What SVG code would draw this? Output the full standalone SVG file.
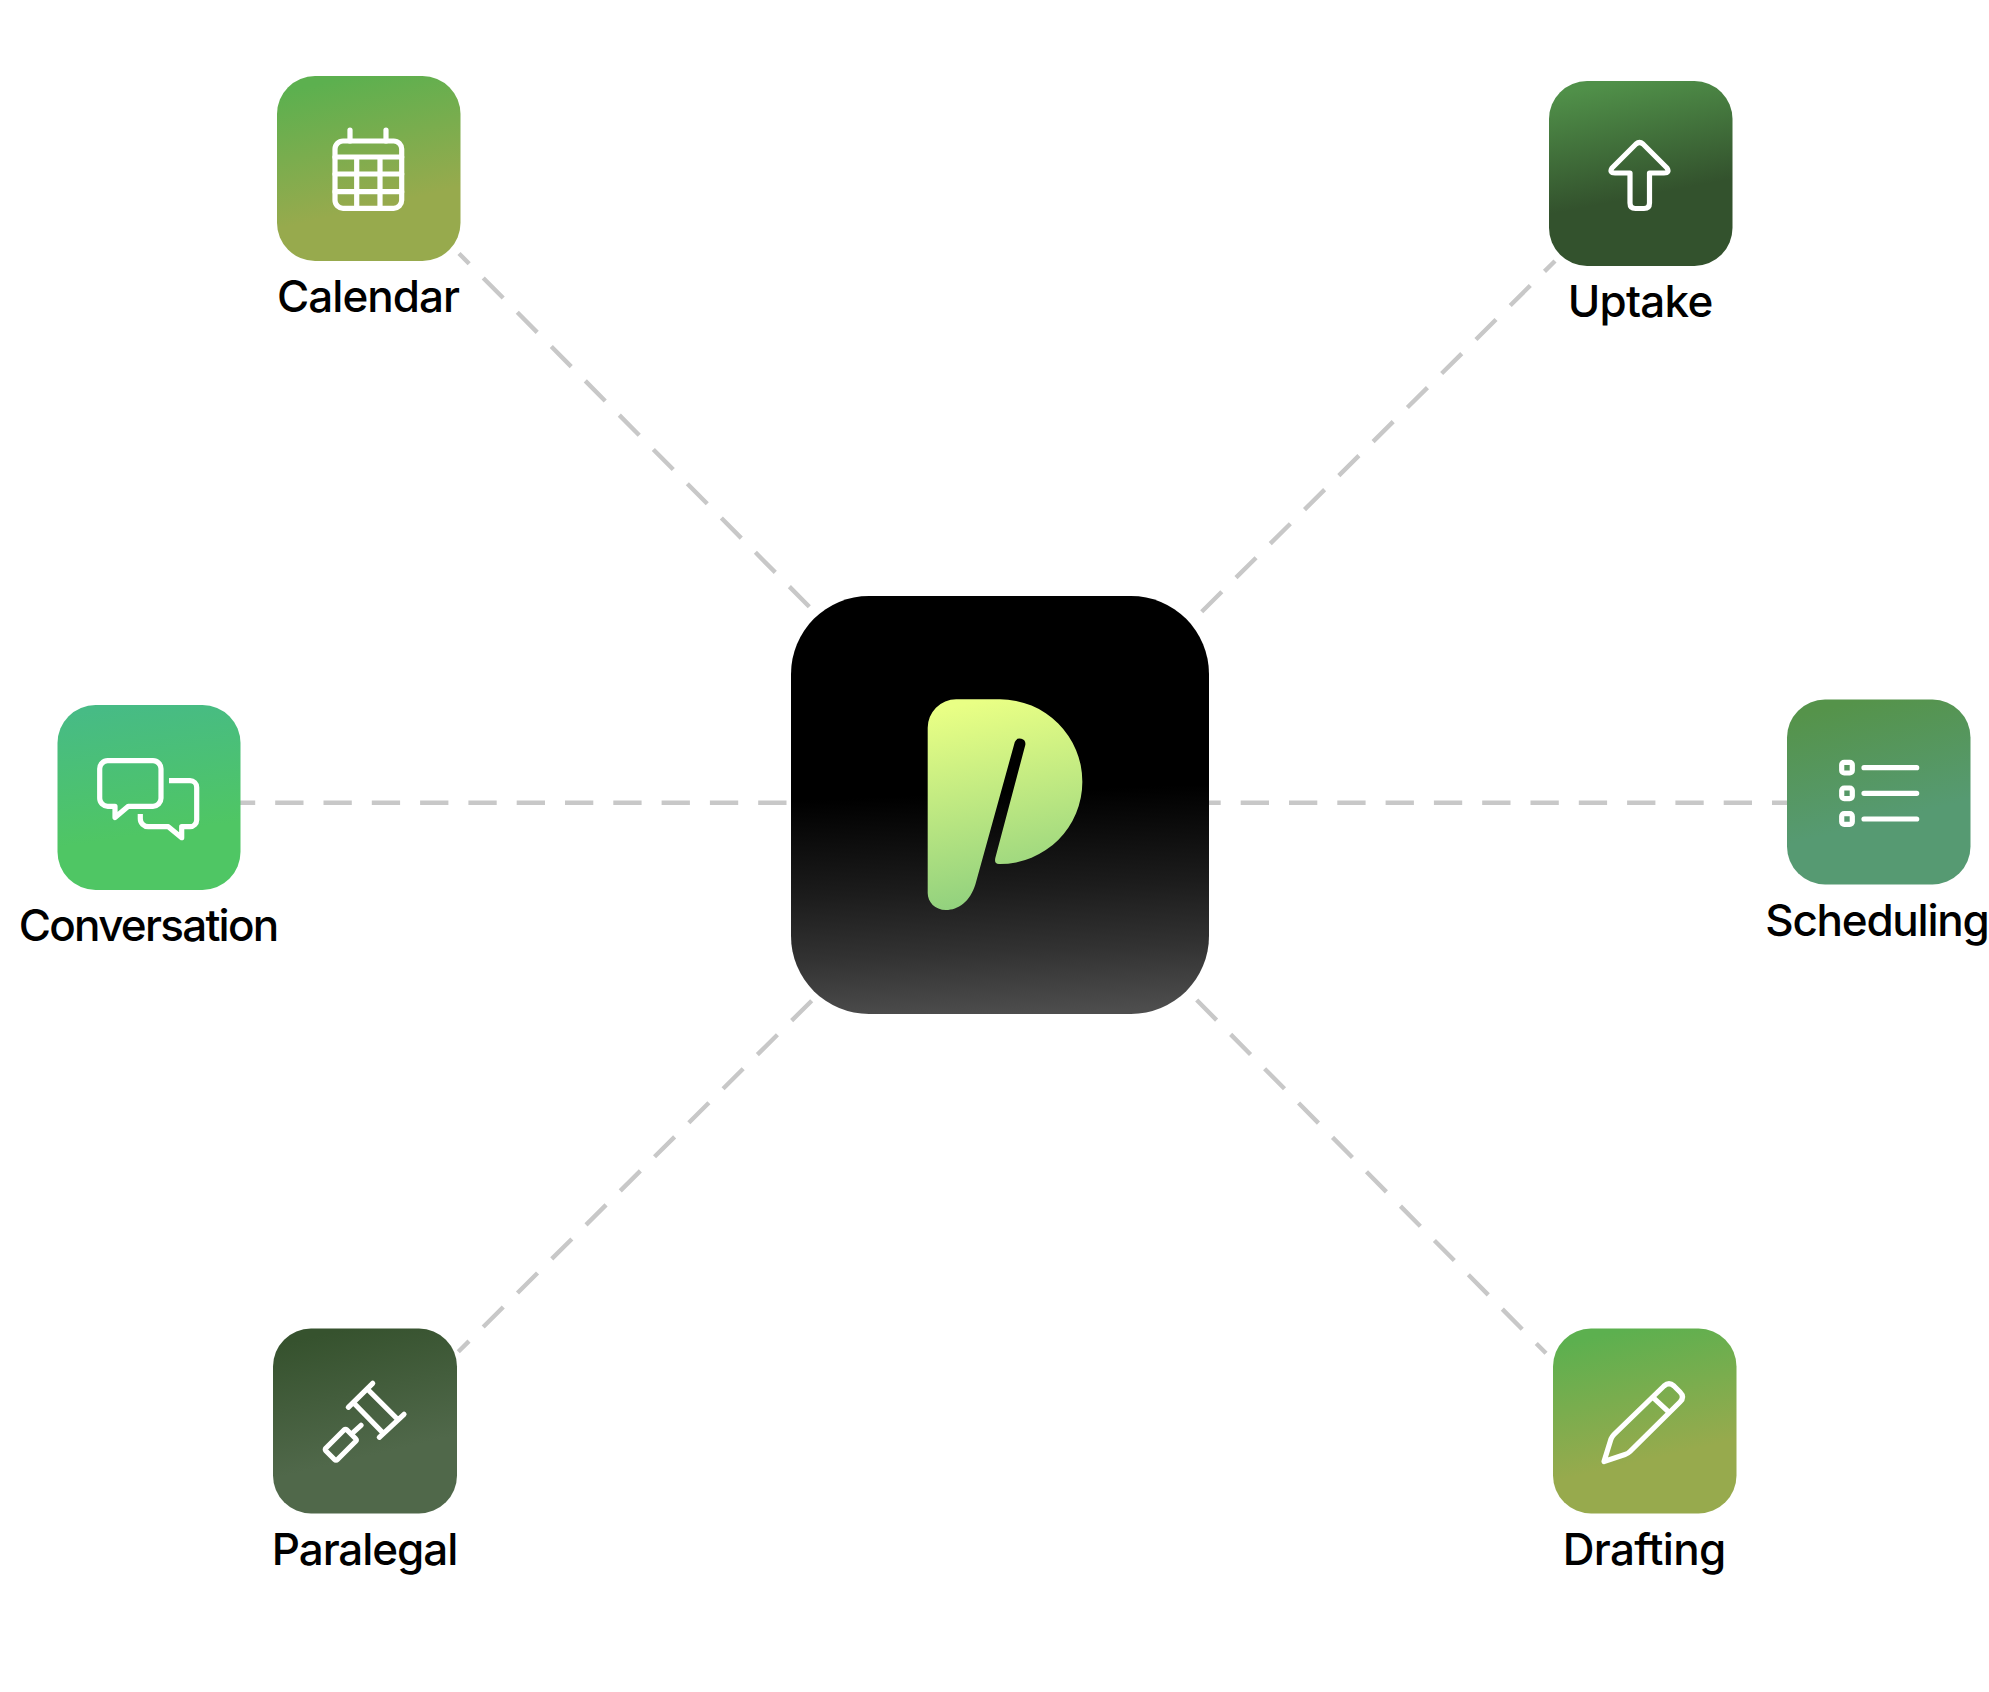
<svg xmlns="http://www.w3.org/2000/svg" width="1989" height="1692" viewBox="0 0 1989 1692">
<style>
.link{fill:none;stroke:#c8c8c8;stroke-width:4.4;stroke-dasharray:28.3 20}
.ic{fill:none;stroke:#fff;stroke-width:5.2;stroke-linecap:round;stroke-linejoin:round}
.lb{font-family:Inter,"Liberation Sans",sans-serif;font-size:44px;font-weight:500;fill:#000;text-anchor:middle}
</style>
<defs>
<linearGradient id="gHub" x1="0.48" y1="0" x2="0.52" y2="1"><stop offset="0" stop-color="#000"/><stop offset="0.47" stop-color="#000"/><stop offset="0.7" stop-color="#1c1c1c"/><stop offset="0.85" stop-color="#323232"/><stop offset="1" stop-color="#4d4d4d"/></linearGradient>
<linearGradient id="gLogo" gradientUnits="userSpaceOnUse" x1="960" y1="705" x2="1000" y2="905"><stop offset="0" stop-color="#e9ff85"/><stop offset="1" stop-color="#90d07e"/></linearGradient>
<linearGradient id="gOlive" x1="0.4" y1="0" x2="0.56" y2="0.7"><stop offset="0" stop-color="#5cb04f"/><stop offset="1" stop-color="#97aa4d"/></linearGradient>
<linearGradient id="gUptake" x1="0.4" y1="0" x2="0.52" y2="0.62"><stop offset="0" stop-color="#509049"/><stop offset="1" stop-color="#33522d"/></linearGradient>
<linearGradient id="gConv" x1="0.4" y1="0" x2="0.5" y2="0.7"><stop offset="0" stop-color="#47bb85"/><stop offset="1" stop-color="#4fc664"/></linearGradient>
<linearGradient id="gSched" x1="0.4" y1="0" x2="0.56" y2="0.65"><stop offset="0" stop-color="#55934a"/><stop offset="1" stop-color="#569a72"/></linearGradient>
<linearGradient id="gPara" x1="0.4" y1="0" x2="0.56" y2="0.68"><stop offset="0" stop-color="#36522e"/><stop offset="1" stop-color="#50684a"/></linearGradient>
</defs>
<rect width="1989" height="1692" fill="#fff"/>
<g id="connectors">
<line class="link" x1="809.3" y1="606.7" x2="459" y2="253.5"/>
<line class="link" x1="1201.7" y1="611.7" x2="1555" y2="261"/>
<line class="link" x1="786.5" y1="802.7" x2="240" y2="802.7"/>
<line class="link" x1="1192.4" y1="802.7" x2="1788" y2="802.7"/>
<line class="link" x1="811.7" y1="1000.7" x2="458.3" y2="1351.7"/>
<line class="link" x1="1196.7" y1="1000" x2="1546" y2="1353.3"/>
</g>
<g id="hub">
<rect x="791" y="596" width="418" height="418" rx="78" fill="url(#gHub)"/>
<path fill="url(#gLogo)" d="M927.7 728A28.5 28.5 0 0 1 956.2 699.3L1000 699.3A82.3 82.3 0 0 1 1000 864L999 864Q994 864 995.3 858L1025.3 745A5.5 5.5 0 0 0 1014.8 742L975.5 884C970 902 958 910 946 910C935 910 927.7 902 927.7 893Z"/>
</g>
<g id="calendar">
<rect x="277" y="76" width="183.5" height="185" rx="38" fill="url(#gOlive)"/>
<g class="ic"><rect x="335" y="141" width="66.7" height="67.3" rx="8"/><path d="M335 157H401.7M335 174H401.7M335 191.7H401.7M356.7 157V208.3M380 157V208.3M350 130V141M386 130V141"/></g>
<text class="lb" x="368.5" y="311.7" textLength="183" lengthAdjust="spacing">Calendar</text>
</g>
<g id="uptake">
<rect x="1549" y="81" width="183.5" height="185" rx="38" fill="url(#gUptake)"/>
<path class="ic" d="M1636 144Q1639.5 141 1643 144L1667 168Q1670 173 1664 173L1649.5 173L1649.5 203Q1649.5 208.5 1644 208.5L1635.5 208.5Q1630 208.5 1630 203L1630 173L1615 173Q1609 173 1612 168Z"/>
<text class="lb" x="1640.5" y="317" textLength="145.5" lengthAdjust="spacing">Uptake</text>
</g>
<g id="conversation">
<rect x="57.5" y="705" width="183" height="185" rx="38" fill="url(#gConv)"/>
<g class="ic"><path d="M107.7 760.7H153A8 8 0 0 1 161 768.7V798.3A8 8 0 0 1 153 806.3H128.3L115 817.5V806.3H107.7A8 8 0 0 1 99.7 798.3V768.7A8 8 0 0 1 107.7 760.7Z"/><path stroke-linecap="butt" d="M169 780.7H190A6.7 6.7 0 0 1 196.7 787.4V820A6.7 6.7 0 0 1 190 826.7H181.7V837.7L168.3 826.7H148.3A8 8 0 0 1 140.3 818.7V814"/></g>
<text class="lb" x="149" y="940.7" textLength="260.5" lengthAdjust="spacing">Conversation</text>
</g>
<g id="scheduling">
<rect x="1787" y="699.5" width="183.5" height="185" rx="38" fill="url(#gSched)"/>
<g class="ic"><rect x="1841.7" y="762.4" width="10.6" height="10.6" rx="2.5"/><rect x="1841.7" y="788" width="10.6" height="10.6" rx="2.5"/><rect x="1841.7" y="813.7" width="10.6" height="10.6" rx="2.5"/><path d="M1864 767.7H1916.7M1864 793.3H1916.7M1864 819H1916.7"/></g>
<text class="lb" x="1877.5" y="936" textLength="224.5" lengthAdjust="spacing">Scheduling</text>
</g>
<g id="paralegal">
<rect x="273" y="1328.5" width="184" height="185" rx="38" fill="url(#gPara)"/>
<g class="ic"><path d="M348.3 1407.3L372.7 1383.3M379.3 1437.3L404 1414.3M354 1403.3L382.3 1432.3M367.3 1389L397.3 1419M353.3 1432.3L361 1425.3"/><path d="M344 1430Q345.5 1428.7 347 1430L355.5 1438.5Q357 1440 355.5 1441.5L337.5 1459.5Q336 1461 334.5 1459.5L326 1451Q324.7 1449.5 326 1448Z"/></g>
<text class="lb" x="365" y="1565" textLength="186.5" lengthAdjust="spacing">Paralegal</text>
</g>
<g id="drafting">
<rect x="1553" y="1328.5" width="183.5" height="185" rx="38" fill="url(#gOlive)"/>
<g class="ic"><path d="M1604 1461.5L1611 1439Q1612 1436.5 1614 1434.5L1664 1386Q1669 1381.5 1674 1386L1680 1392Q1685 1397 1680 1402L1630 1451.5Q1628 1453.5 1625 1454.5Z"/><path d="M1654 1398.3L1668.3 1411.7"/></g>
<text class="lb" x="1644.5" y="1565" textLength="163.5" lengthAdjust="spacing">Drafting</text>
</g>
</svg>
